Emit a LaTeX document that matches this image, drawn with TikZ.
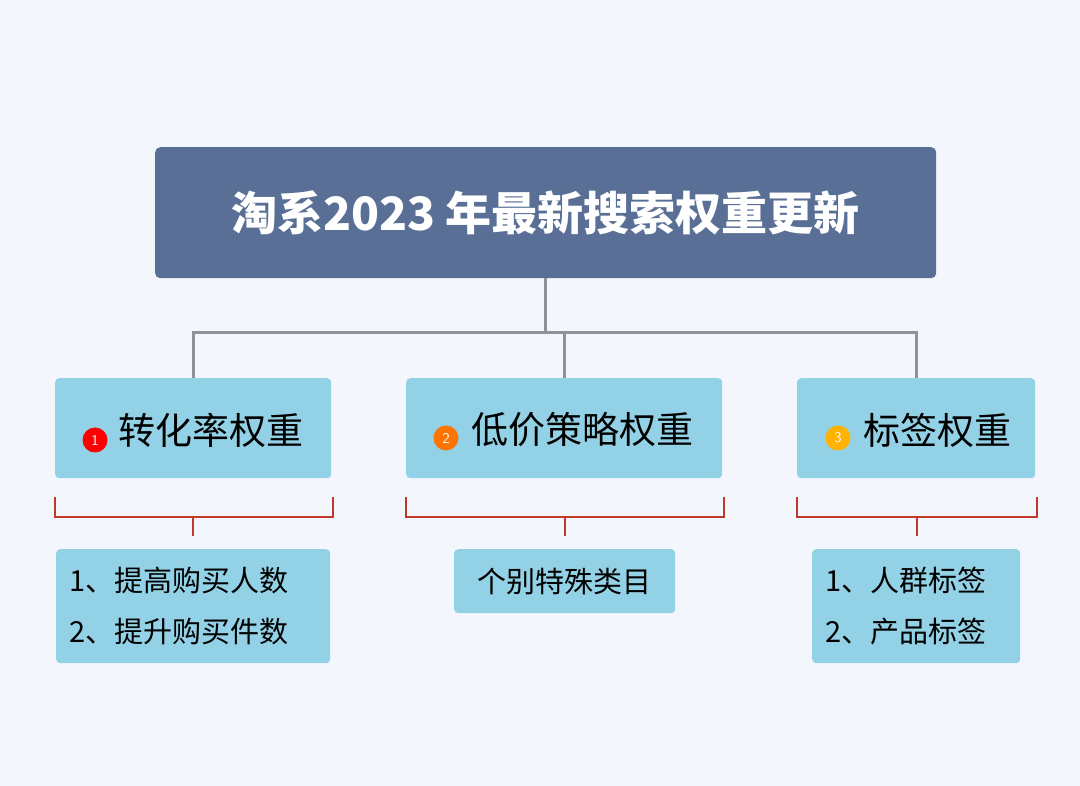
\documentclass[tikz,border=0pt]{standalone}
\usepackage{fontspec}
\newfontfamily\cjk{Noto Sans CJK SC}
\definecolor{bg}{HTML}{F3F6FC}
\definecolor{titlec}{HTML}{5A6F96}
\definecolor{boxc}{HTML}{93D2E6}
\definecolor{linec}{HTML}{8C939C}
\definecolor{brc}{HTML}{C0392B}
\begin{document}
\begin{tikzpicture}[x=1pt,y=-1pt,
  lvl/.style={fill=boxc,rounded corners=4pt,inner sep=0pt,anchor=north west},
  conn/.style={draw=linec,line width=3pt},
  br/.style={draw=brc,line width=1.5pt},
  num/.style={circle,inner sep=0pt,minimum size=25pt,text=white,font=\sffamily\fontsize{15}{15}\selectfont}]
\fill[bg] (0,0) rectangle (1080,786);
\useasboundingbox (0,0) rectangle (1080,786);
\node[fill=titlec,rounded corners=5pt,minimum width=781pt,minimum height=131pt,anchor=north west,text=white,font=\cjk\bfseries\fontsize{46}{50}\selectfont] (t) at (155,147) {淘系2023 年最新搜索权重更新};
\node[lvl,minimum width=276pt,minimum height=100pt] (a) at (55,378) {};
\node[lvl,minimum width=316pt,minimum height=100pt] (b) at (406,378) {};
\node[lvl,minimum width=238pt,minimum height=100pt] (c) at (797,378) {};
\node[num,fill=red] (na) at (95,440) {1};
\node[anchor=west,font=\cjk\fontsize{37}{40}\selectfont] at (115,430) {转化率权重};
\node[num,fill=orange!90!red] (nb) at (446,438) {2};
\node[anchor=west,font=\cjk\fontsize{37}{40}\selectfont] at (468,430) {低价策略权重};
\node[num,fill=orange!60!yellow] (nc) at (838,438) {3};
\node[anchor=west,font=\cjk\fontsize{37}{40}\selectfont] at (860,430) {标签权重};
\coordinate (j) at (545,333);
\draw[conn] (t.south -| j) -- (j);
\draw[conn] (a.north) |- (j) -| (c.north);
\draw[conn] (b.north) -- (b.north |- j);
% brackets
\foreach \l/\r/\m in {55/333/193, 406/724/565, 797/1037/917}{
  \draw[br] (\l,497) -- (\l,517) -- (\r,517) -- (\r,497);
  \draw[br] (\m,517) -- (\m,536);
}
\node[lvl,minimum width=274pt,minimum height=114pt] (d) at (56,549) {};
\node[anchor=west,font=\cjk\fontsize{29}{32}\selectfont] at (66,580) {1、提高购买人数};
\node[anchor=west,font=\cjk\fontsize{29}{32}\selectfont] at (66,632) {2、提升购买件数};
\node[lvl,minimum width=221pt,minimum height=64pt,font=\cjk\fontsize{29}{32}\selectfont,anchor=north west] (e) at (454,549) {个别特殊类目};
\node[lvl,minimum width=208pt,minimum height=114pt] (f) at (812,549) {};
\node[anchor=west,font=\cjk\fontsize{29}{32}\selectfont] at (822,580) {1、人群标签};
\node[anchor=west,font=\cjk\fontsize{29}{32}\selectfont] at (822,632) {2、产品标签};
\end{tikzpicture}
\end{document}
